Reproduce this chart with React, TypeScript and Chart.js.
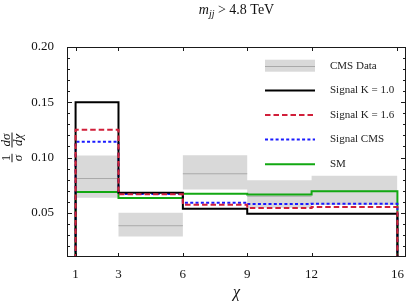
import React, { useEffect, useRef } from "react";
import { Chart, registerables } from "chart.js";

Chart.register(...registerables);

// ---- data ----
const binEdges = [1, 3, 6, 9, 12, 16];
const xTickValues = [1, 3, 6, 9, 12, 16];
const yTickValues = [0.05, 0.1, 0.15, 0.2];
const yMinorStep = 0.01;

const cmsCentral = [0.081, 0.0383, 0.0853, 0.065, 0.0695];
const cmsUpper = [0.1018, 0.05, 0.102, 0.0794, 0.0836];
const cmsLower = [0.0636, 0.0286, 0.0711, 0.0545, 0.057];
const signalK10 = [0.15, 0.0681, 0.0536, 0.0492, 0.0492];
const signalK16 = [0.1252, 0.0667, 0.0572, 0.0543, 0.0553];
const signalCMS = [0.1143, 0.067, 0.059, 0.0579, 0.0581];
const smValues = [0.0688, 0.0634, 0.0672, 0.0666, 0.0694];

const legendLabels = ["CMS Data", "Signal K = 1.0", "Signal K = 1.6", "Signal CMS", "SM"];

const SERIF = '"Liberation Serif", "DejaVu Serif", serif';

function stepPoints(vals: number[], drop: boolean) {
  const pts: { x: number; y: number }[] = [];
  const last = binEdges.length - 1;
  if (drop) pts.push({ x: binEdges[0], y: 0 });
  vals.forEach((v, i) => pts.push({ x: binEdges[i], y: v }));
  pts.push({ x: binEdges[last], y: vals[vals.length - 1] });
  if (drop) pts.push({ x: binEdges[last], y: 0 });
  return pts;
}

function segmentPoints(vals: number[]) {
  const pts: { x: number; y: number | null }[] = [];
  vals.forEach((v, i) => {
    pts.push({ x: binEdges[i], y: v });
    pts.push({ x: binEdges[i + 1], y: v });
    if (i < vals.length - 1) pts.push({ x: binEdges[i + 1], y: null });
  });
  return pts;
}

type Run = { t: string; f: string; dy?: number };

function runsWidth(ctx: CanvasRenderingContext2D, runs: Run[]) {
  let w = 0;
  for (const r of runs) {
    ctx.font = r.f;
    w += ctx.measureText(r.t).width;
  }
  return w;
}

function drawRuns(ctx: CanvasRenderingContext2D, runs: Run[], cx: number, y: number) {
  let x = cx - runsWidth(ctx, runs) / 2;
  ctx.textAlign = "left";
  ctx.textBaseline = "alphabetic";
  for (const r of runs) {
    ctx.font = r.f;
    ctx.fillText(r.t, x, y + (r.dy || 0));
    x += ctx.measureText(r.t).width;
  }
}

const decorPlugin = {
  id: "decor",
  afterDatasetsDraw(chart: any) {
    const { ctx, chartArea: a, scales } = chart;
    const xs = scales.x;
    const ys = scales.y;
    ctx.save();
    ctx.strokeStyle = "#1a1a1a";
    ctx.lineWidth = 1;
    ctx.strokeRect(a.left + 0.5, a.top + 0.5, a.right - a.left - 1, a.bottom - a.top - 1);
    ctx.beginPath();
    for (const v of xTickValues) {
      const px = Math.round(xs.getPixelForValue(v)) + 0.5;
      ctx.moveTo(px, a.bottom);
      ctx.lineTo(px, a.bottom - 4);
      ctx.moveTo(px, a.top);
      ctx.lineTo(px, a.top + 4);
    }
    const nMinor = Math.round((ys.max - ys.min) / yMinorStep);
    for (let i = 1; i <= nMinor; i++) {
      const v = ys.min + i * yMinorStep;
      const major = yTickValues.some((t) => Math.abs(t - v) < 1e-6);
      const len = major ? 5 : 3;
      const py = Math.round(ys.getPixelForValue(v)) + 0.5;
      ctx.moveTo(a.left, py);
      ctx.lineTo(a.left + len, py);
      ctx.moveTo(a.right, py);
      ctx.lineTo(a.right - len, py);
    }
    ctx.stroke();
    ctx.restore();
  },
  afterDraw(chart: any) {
    const { ctx, chartArea: a, data } = chart;
    ctx.save();
    ctx.fillStyle = "#111";
    // title
    const cx = (a.left + a.right) / 2;
    drawRuns(
      ctx,
      [
        { t: "m", f: `italic 14px ${SERIF}` },
        { t: "jj", f: `italic 10px ${SERIF}`, dy: 3 },
        { t: " > 4.8 TeV", f: `14px ${SERIF}` },
      ],
      cx,
      14
    );
    // x title
    drawRuns(ctx, [{ t: "χ", f: `italic 16px ${SERIF}` }], cx, 297);
    // y title: (1/σ)(dσ/dχ)
    ctx.save();
    ctx.translate(12, 147);
    ctx.rotate(-Math.PI / 2);
    const fr = (num: Run[], den: Run[], c: number) => {
      const w = Math.max(runsWidth(ctx, num), runsWidth(ctx, den)) + 2;
      drawRuns(ctx, num, c, -2);
      drawRuns(ctx, den, c, 10);
      ctx.fillRect(c - w / 2, -0.5, w, 1);
      return w;
    };
    fr([{ t: "1", f: `13px ${SERIF}` }], [{ t: "σ", f: `italic 13px ${SERIF}` }], -11);
    fr([{ t: "dσ", f: `italic 13px ${SERIF}` }], [{ t: "dχ", f: `italic 13px ${SERIF}` }], 7);
    ctx.restore();

    // legend
    const symL = 265;
    const symR = 315;
    const textX = 330;
    const rowY = [65.7, 90.4, 115, 139.6, 164.3];
    legendLabels.forEach((lab, i) => {
      const y = rowY[i];
      if (i === 0) {
        ctx.fillStyle = "#d9d9d9";
        ctx.fillRect(symL, y - 6, symR - symL, 12);
        ctx.strokeStyle = "#a9a9a9";
        ctx.lineWidth = 1;
        ctx.beginPath();
        ctx.moveTo(symL, Math.round(y) + 0.5);
        ctx.lineTo(symR, Math.round(y) + 0.5);
        ctx.stroke();
      } else {
        const ds = data.datasets.find((d: any) => d.label === lab);
        ctx.strokeStyle = ds.borderColor;
        ctx.lineWidth = ds.borderWidth;
        ctx.setLineDash(ds.borderDash || []);
        ctx.beginPath();
        ctx.moveTo(symL, y);
        ctx.lineTo(symR, y);
        ctx.stroke();
        ctx.setLineDash([]);
      }
      ctx.fillStyle = "#222";
      ctx.font = `11px ${SERIF}`;
      ctx.textAlign = "left";
      ctx.textBaseline = "middle";
      ctx.fillText(lab, textX, y);
    });
    ctx.restore();
  },
};

export default function App() {
  const ref = useRef<HTMLCanvasElement | null>(null);
  useEffect(() => {
    document.body.style.margin = "0";
    const canvas = ref.current!;
    const lineBase = {
      type: "line" as const,
      pointRadius: 0,
      stepped: "before" as const,
      fill: false,
      borderWidth: 2,
    };
    const chart = new Chart(canvas, {
      type: "line",
      data: {
        datasets: [
          {
            label: "CMS band upper",
            data: stepPoints(cmsUpper, false),
            pointRadius: 0,
            stepped: "before",
            borderWidth: 0,
            borderColor: "rgba(0,0,0,0)",
            backgroundColor: "#d9d9d9",
            fill: "+1",
            order: 20,
          },
          {
            label: "CMS band lower",
            data: stepPoints(cmsLower, false),
            pointRadius: 0,
            stepped: "before",
            borderWidth: 0,
            borderColor: "rgba(0,0,0,0)",
            fill: false,
            order: 19,
          },
          {
            label: "CMS Data",
            data: segmentPoints(cmsCentral),
            pointRadius: 0,
            borderWidth: 1,
            borderColor: "#a9a9a9",
            spanGaps: false,
            fill: false,
            order: 18,
          },
          { ...lineBase, label: "SM", data: stepPoints(smValues, true), borderColor: "#12a812", order: 4 },
          {
            ...lineBase,
            label: "Signal CMS",
            data: stepPoints(signalCMS, true),
            borderColor: "#1a1aff",
            borderDash: [3, 2.3],
            order: 3,
          },
          { ...lineBase, label: "Signal K = 1.0", data: stepPoints(signalK10, true), borderColor: "#000000", order: 2 },
          {
            ...lineBase,
            label: "Signal K = 1.6",
            data: stepPoints(signalK16, true),
            borderColor: "#d11f3a",
            borderDash: [5.5, 3],
            order: 1,
          },
        ] as any,
      },
      options: {
        animation: false,
        responsive: false,
        layout: { padding: { left: 0, top: 47, right: 1, bottom: 0 } },
        plugins: { legend: { display: false }, tooltip: { enabled: false }, title: { display: false } },
        scales: {
          x: {
            type: "linear",
            min: 0.6,
            max: 16.4,
            grid: { display: false },
            border: { display: false },
            afterBuildTicks: (s: any) => {
              s.ticks = xTickValues.map((v) => ({ value: v }));
            },
            afterFit: (s: any) => {
              s.height = 49;
            },
            ticks: {
              autoSkip: false,
              maxRotation: 0,
              padding: 2,
              color: "#111",
              font: { family: SERIF, size: 13 },
              callback: (v: any) => String(v),
            },
          },
          y: {
            type: "linear",
            min: 0.01,
            max: 0.2,
            grid: { display: false },
            border: { display: false },
            afterBuildTicks: (s: any) => {
              s.ticks = yTickValues.map((v) => ({ value: v }));
            },
            afterFit: (s: any) => {
              s.width = 67;
            },
            ticks: {
              padding: 5,
              color: "#111",
              font: { family: SERIF, size: 13 },
              callback: (v: any) => Number(v).toFixed(2),
            },
          },
        },
      },
      plugins: [decorPlugin],
    });
    return () => chart.destroy();
  }, []);
  return (
    <div style={{ position: "absolute", left: 0, top: 0, width: 407, height: 306 }}>
      <canvas ref={ref} width={407} height={306} style={{ display: "block", width: 407, height: 306 }} />
    </div>
  );
}
